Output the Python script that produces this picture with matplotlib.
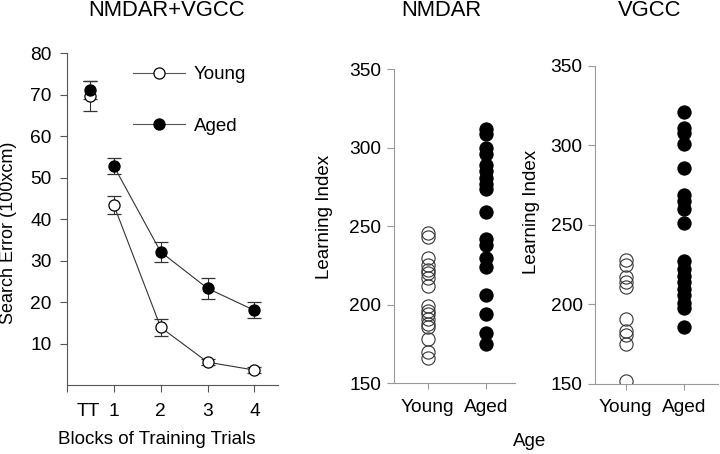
import matplotlib
matplotlib.use("Agg")
import matplotlib.pyplot as plt
from matplotlib.lines import Line2D

plt.rcParams['font.family'] = ['Liberation Sans', 'DejaVu Sans']

# 1. DATA
# left panel: search error per block (TT = probe trial)
blocks = [0.5, 1, 2, 3, 4]
block_labels = ['TT', '1', '2', '3', '4']
young_err = [69.8, 43.4, 13.9, 5.5, 3.6]
young_sem = [3.6, 2.1, 2.0, 0.7, 0.8]
aged_err = [71.2, 52.8, 32.1, 23.3, 18.0]
aged_sem = [2.2, 2.0, 2.4, 2.5, 1.9]

# learning index, NMDAR group
nmdar_young = [246, 243, 230, 225, 222, 220, 217, 212, 199, 196, 194, 191,
               188, 186, 178, 170, 166]
nmdar_aged = [312, 309, 300, 296, 289, 285, 281, 277, 274, 259, 242, 238,
              230, 224, 206, 194, 182, 175]

# learning index, VGCC group
vgcc_young = [228, 225, 217, 214, 211, 191, 183, 181, 175, 152]
vgcc_aged = [321, 311, 308, 301, 286, 269, 265, 260, 251, 227, 222, 218,
             214, 210, 206, 201, 198, 186]

group_labels = ['Young', 'Aged']

# 2. FIGURE
fig = plt.figure(figsize=(7.2, 4.54), dpi=100)

TICK_FS = 13.8
LABEL_FS = 13.5
TITLE_FS = 15.8


def style_axes(ax, spine_color):
    for s in ['top', 'right']:
        ax.spines[s].set_visible(False)
    for s in ['left', 'bottom']:
        ax.spines[s].set_color(spine_color)
        ax.spines[s].set_linewidth(0.8)
    ax.tick_params(direction='out', length=5, width=0.8, color=spine_color,
                   labelsize=TICK_FS)


# left panel
ax1 = fig.add_axes([0.093, 0.152, 0.293, 0.7305])
style_axes(ax1, '#555555')

err_style = dict(capsize=5, elinewidth=0.8, capthick=0.8, ecolor='#333333',
                 ms=8, mec='black', mew=0.9, zorder=3)
ax1.errorbar(blocks[1:], young_err[1:], yerr=young_sem[1:], color='#333333',
             lw=0.8, marker='o', mfc='white', **err_style)
ax1.errorbar(blocks[1:], aged_err[1:], yerr=aged_sem[1:], color='#333333',
             lw=0.8, marker='o', mfc='black', **err_style)
# TT point is not connected to the training blocks
ax1.errorbar(blocks[:1], young_err[:1], yerr=young_sem[:1], fmt='o',
             mfc='white', **err_style)
ax1.errorbar(blocks[:1], aged_err[:1], yerr=aged_sem[:1], fmt='o',
             mfc='black', **err_style)

ax1.set_xlim(0, 4.5)
ax1.set_ylim(0, 80)
ax1.set_yticks(range(10, 81, 10))
ax1.set_xticks([0, 1, 2, 3, 4])
ax1.set_xticklabels([''] + block_labels[1:])
ax1.set_xticks([0.45], minor=True)
ax1.set_xticklabels(block_labels[:1], minor=True)
ax1.tick_params(axis='x', which='major', pad=8)
ax1.tick_params(axis='x', which='minor', length=0, pad=13, labelsize=TICK_FS)
ax1.tick_params(axis='y', pad=6)
ax1.set_ylabel('Search Error (100xcm)', fontsize=13)
ax1.yaxis.set_label_coords(-0.235, 0.46)
ax1.set_xlabel('Blocks of Training Trials', fontsize=LABEL_FS)
ax1.xaxis.set_label_coords(0.427, -0.14)

handles = [Line2D([], [], color='#555555', lw=0.8, marker='o', ms=8,
                  mfc=fc, mec='black', mew=0.9) for fc in ['white', 'black']]
ax1.legend(handles, group_labels, loc='upper left',
           bbox_to_anchor=(0.313, 0.962), frameon=False, fontsize=LABEL_FS,
           handlelength=2.8, handletextpad=0.45, labelspacing=1.85,
           borderpad=0, borderaxespad=0)


def scatter_panel(rect, young, aged, xlim, title_x, title):
    ax = fig.add_axes(rect)
    style_axes(ax, '#999999')
    ax.plot([1] * len(young), young, 'o', ms=9.5, mfc='none', mec='#333333',
            mew=0.8)
    ax.plot([2] * len(aged), aged, 'o', ms=9.5, mfc='black', mec='black',
            mew=0.8)
    ax.set_xlim(*xlim)
    ax.set_ylim(150, 350)
    ax.set_yticks(range(150, 351, 50))
    ax.set_xticks([1, 2])
    ax.set_xticklabels(group_labels)
    ax.tick_params(axis='x', pad=7, length=4)
    ax.tick_params(axis='y', pad=4)
    ax.set_ylabel('Learning Index', fontsize=LABEL_FS)
    fig.text(title_x, 0.976, title, ha='center', va='center',
             fontsize=TITLE_FS)
    return ax


ax2 = scatter_panel([0.547, 0.1557, 0.168, 0.692], nmdar_young, nmdar_aged,
                    (0.42, 2.5), 441 / 720, 'NMDAR')
ax2.yaxis.set_label_coords(-0.504, 0.53)

ax3 = scatter_panel([0.8264, 0.1542, 0.171, 0.701], vgcc_young, vgcc_aged,
                    (0.473, 2.58), 650 / 720, 'VGCC')
ax3.yaxis.set_label_coords(-0.447, 0.542)

fig.text(167 / 720, 0.976, 'NMDAR+VGCC', ha='center', va='center',
         fontsize=TITLE_FS)
fig.text(530 / 720, 1 - 441 / 454, 'Age', ha='center', va='center',
         fontsize=LABEL_FS)

fig.savefig('out.png', dpi=100)
